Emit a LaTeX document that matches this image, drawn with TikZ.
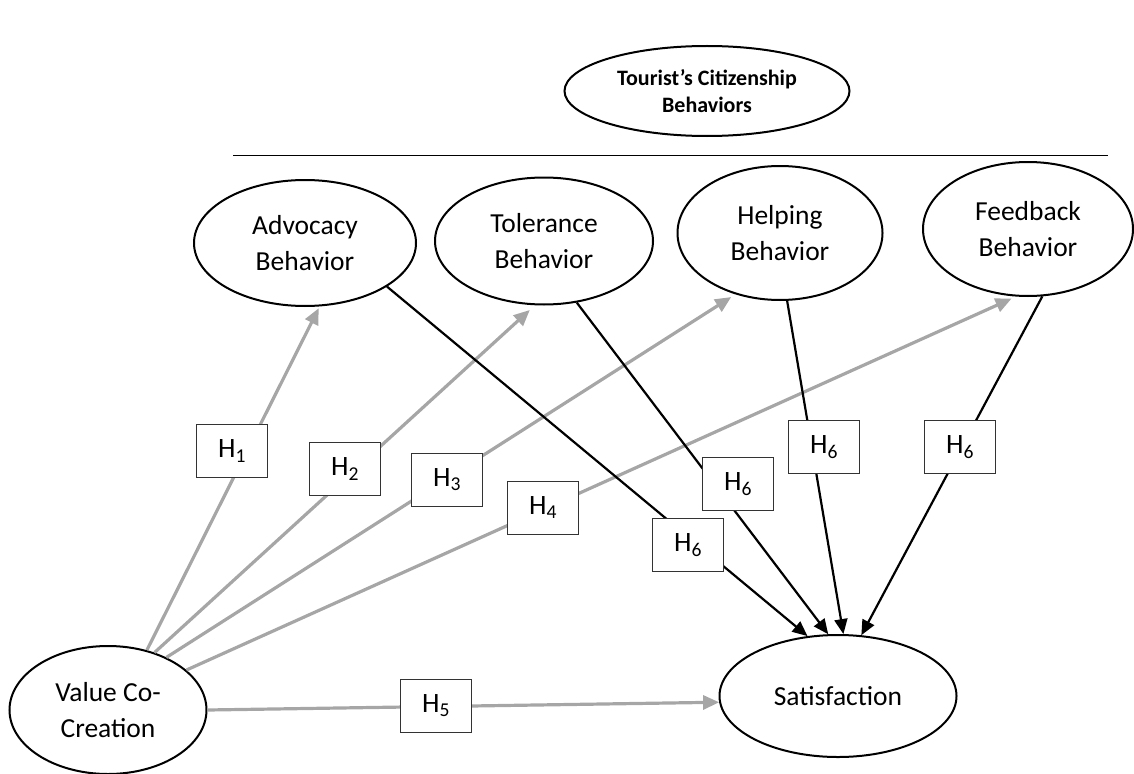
\documentclass[tikz,border=0pt]{standalone}
\usepackage{fontspec}
\setmainfont{Carlito}
\usetikzlibrary{shapes.geometric, arrows.meta}
\begin{document}
\begin{tikzpicture}[x=1pt, y=-1pt,
    construct/.style={draw, ellipse, line width=2pt, inner sep=0pt, align=center,
      font=\fontsize{27.5}{36}\selectfont},
    hyp/.style={draw=black!80, line width=1.1pt, fill=white, inner sep=0pt,
      minimum width=71pt, minimum height=53pt, font=\fontsize{28}{30}\selectfont},
    grayarrow/.style={draw=black!35, line width=3.2pt, -{Triangle[length=16pt, width=14pt]}},
    blackarrow/.style={draw=black, line width=2.2pt, -{Triangle[length=15pt, width=13pt]}}]
  \useasboundingbox (0,0) rectangle (1134,773);
  % Constructs
  \node[construct, font=\fontsize{22}{27}\selectfont\bfseries,
    minimum width=285pt, minimum height=90pt] (tcb) at (707,91) {Tourist’s Citizenship\\Behaviors};
  \draw[line width=1pt] (233,155) -- (1108,155);
  \node[construct, minimum width=222pt, minimum height=126pt] (adv) at (305,243) {Advocacy\\Behavior};
  \node[construct, minimum width=218pt, minimum height=127pt] (tol) at (544,241) {Tolerance\\Behavior};
  \node[construct, minimum width=205pt, minimum height=134pt] (help) at (780,233) {Helping\\Behavior};
  \node[construct, minimum width=210pt, minimum height=134pt] (feed) at (1028,229) {Feedback\\Behavior};
  \node[construct, minimum width=197pt, minimum height=128pt] (vcc) at (108,710) {Value Co-\\Creation};
  \node[construct, minimum width=237pt, minimum height=122pt] (sat) at (838,696) {Satisfaction};
  % Paths from value co-creation
  \foreach \a/\t/\b/\s in {57.6/adv/-77/2, 51.9/tol/-98.7/7, 42.5/help/-126.4/5, 27.4/feed/-100.2/5}
    \draw[grayarrow, shorten >=\s pt] (vcc.\a) -- (\t.\b);
  \draw[grayarrow] (vcc.east) -- (sat.183);
  % Paths to satisfaction
  \foreach \t/\a/\b in {adv/-28.8/117, tol/-62.2/99, help/-84.2/85.6, feed/-78/69.4}
    \draw[blackarrow] (\t.\a) -- (sat.\b);
  % Hypotheses
  \foreach \n/\x/\y/\k in {h1/232/451/1, h2/345/469/2, h3/447/480/3, h4/543/508/4, h5/436/706/5,
      h6a/688/545/6, h6b/738/484/6, h6c/824/447/6, h6d/960/447/6}
    \node[hyp] (\n) at (\x,\y) {H\textsubscript{\k}};
\end{tikzpicture}
\end{document}
